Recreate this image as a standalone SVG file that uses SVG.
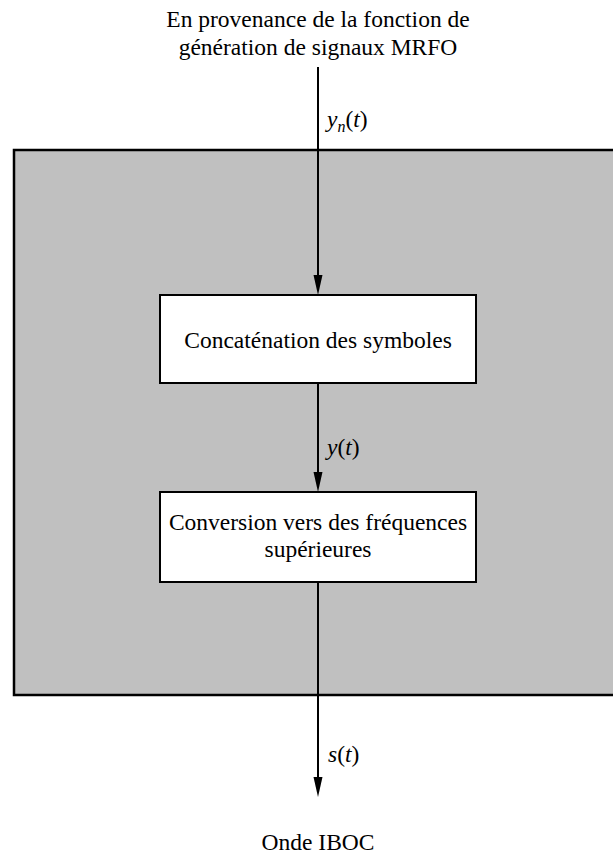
<svg xmlns="http://www.w3.org/2000/svg" width="613" height="855" viewBox="0 0 613 855">
<style>
text{font-family:"Liberation Serif","Times New Roman",serif;font-size:23.5px;fill:#000}
.c{text-anchor:middle}
.i{font-style:italic}
.box{fill:#fff;stroke:#000;stroke-width:2}
.ln{stroke:#000;stroke-width:2;fill:none}
.ah{fill:#000}
</style>
<g id="frame"><rect x="14" y="150" width="605" height="545" fill="#c0c0c0" stroke="#000" stroke-width="2.5"/></g>
<g id="connectors">
<path class="ln" d="M318,67 V276"/><path class="ah" d="M313.5,275 L322.5,275 L318,295 Z"/>
<path class="ln" d="M318,383 V473"/><path class="ah" d="M313.5,472 L322.5,472 L318,492 Z"/>
<path class="ln" d="M318,582 V778"/><path class="ah" d="M313.5,777 L322.5,777 L318,797 Z"/>
</g>
<g id="input"><text class="c" x="318" y="27">En provenance de la fonction de</text><text class="c" x="318" y="55">génération de signaux MRFO</text></g>
<g id="label-yn"><text x="327" y="127"><tspan class="i">y</tspan><tspan class="i" font-size="16" dy="5">n</tspan><tspan dy="-5">(</tspan><tspan class="i">t</tspan>)</text></g>
<g id="concat"><rect class="box" x="160" y="295" width="316" height="88"/><text class="c" x="318" y="348">Concaténation des symboles</text></g>
<g id="label-y"><text x="327" y="455"><tspan class="i">y</tspan>(<tspan class="i">t</tspan>)</text></g>
<g id="upconv"><rect class="box" x="160" y="492" width="316" height="90"/><text class="c" x="318" y="530">Conversion vers des fréquences</text><text class="c" x="318" y="557">supérieures</text></g>
<g id="label-s"><text x="328" y="762"><tspan class="i">s</tspan>(<tspan class="i">t</tspan>)</text></g>
<g id="output"><text class="c" x="318" y="850">Onde IBOC</text></g>
</svg>
